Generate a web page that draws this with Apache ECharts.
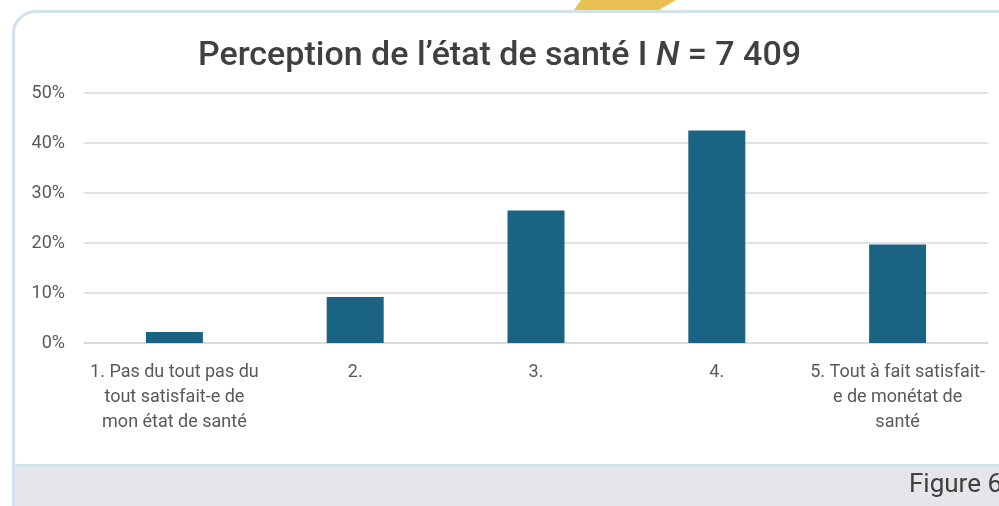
<!DOCTYPE html>
<html>
<head>
<meta charset="utf-8">
<script src="https://cdn.jsdelivr.net/npm/echarts@6/dist/echarts.min.js"></script>
<style>
  html, body { margin: 0; padding: 0; background: #fff; }
  #main { width: 999px; height: 506px; }
</style>
</head>
<body>
<div id="main"></div>
<script>
  // catégories de réponse
  var categories = [
    '1. Pas du tout pas du\ntout satisfait-e de\nmon état de santé',
    '2.',
    '3.',
    '4.',
    '5. Tout à fait satisfait-\ne de monétat de\nsanté'
  ]
  // pourcentages
  var values = [2.2, 9.2, 26.5, 42.5, 19.7]
  var yTicks = [0, 10, 20, 30, 40, 50]

  var myChart = echarts.init(document.getElementById('main'))
  var option = {
    backgroundColor: '#fff',
    animation: false,
    graphic: [
      // bande grise du bas
      { type: 'rect', shape: { x: 12, y: 465, width: 1000, height: 45 }, style: { fill: '#e4e6e9' }, z: 0 },
      { type: 'rect', shape: { x: 12, y: 464, width: 1000, height: 3 }, style: { fill: '#d3e1ea' }, z: 1 },
      // cadre de la carte
      {
        type: 'rect',
        shape: { x: 13.5, y: 11.5, width: 1010, height: 520, r: 22 },
        style: { fill: 'none', stroke: '#d3e1ea', lineWidth: 3 },
        z: 2
      },
      // forme jaune en haut
      {
        type: 'polygon',
        shape: { points: [[581, 0], [676, 0], [659, 10], [574, 10]] },
        style: { fill: '#e9c055' },
        z: 3
      },
      {
        type: 'text',
        right: -3,
        top: 472,
        style: { text: 'Figure 6', font: '26px Roboto', fill: '#404040' },
        z: 4
      }
    ],
    title: {
      text: 'Perception de l’état de santé I {i|N} = 7 409',
      left: 'center',
      top: 34,
      textStyle: {
        fontFamily: 'Roboto',
        fontSize: 34,
        fontWeight: 500,
        color: '#404040',
        rich: {
          i: { fontFamily: 'Roboto', fontSize: 34, fontWeight: 500, fontStyle: 'italic', color: '#404040' }
        }
      }
    },
    grid: {
      left: 84,
      right: 11,
      top: 93,
      bottom: 163,
      containLabel: false
    },
    xAxis: {
      type: 'category',
      data: categories,
      axisTick: { show: false },
      axisLine: { lineStyle: { color: '#d9d9d9', width: 1.5 } },
      axisLabel: {
        interval: 0,
        margin: 17,
        fontFamily: 'Roboto',
        fontSize: 18,
        lineHeight: 25,
        color: '#595959',
        align: 'center'
      }
    },
    yAxis: {
      type: 'value',
      min: yTicks[0],
      max: yTicks[yTicks.length - 1],
      interval: 10,
      axisLine: { show: false },
      axisTick: { show: false },
      splitLine: { lineStyle: { color: '#d9d9d9', width: 1.5 } },
      axisLabel: {
        margin: 19,
        fontFamily: 'Roboto',
        fontSize: 18,
        color: '#595959',
        formatter: '{value}%'
      }
    },
    series: [{
      type: 'bar',
      data: values,
      barWidth: 57,
      itemStyle: { color: '#1b6383' }
    }]
  }
  myChart.setOption(option)
</script>
</body>
</html>
